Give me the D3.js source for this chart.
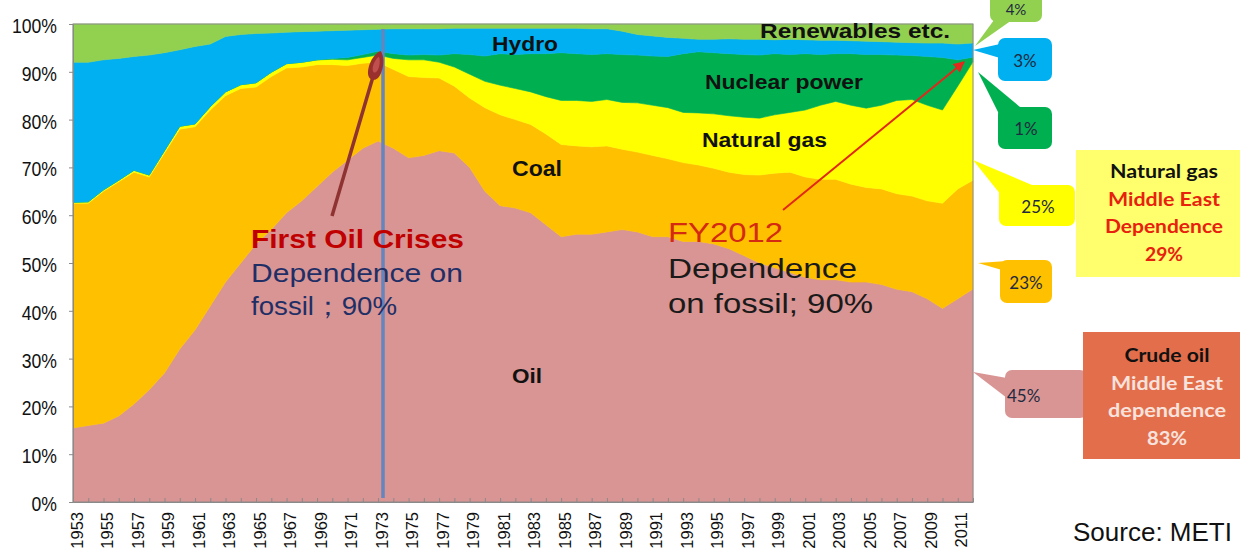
<!DOCTYPE html>
<html>
<head>
<meta charset="utf-8">
<script src="https://cdn.jsdelivr.net/npm/d3@7"></script>
<style>
  body { margin: 0; background: #fff; }
  svg { display: block; }
</style>
</head>
<body>
<svg id="chart" width="1240" height="549"></svg>
<script>
// Fiscal years on the x axis
const years = d3.range(1953, 2013);

// Share of primary energy supply by source (%), FY1953–FY2012
const oil = [15.5,16.0,16.5,18.0,20.5,23.5,27.0,32.0,36.0,41.0,
             46.0,50.0,54.0,57.0,60.5,63.0,66.0,69.0,71.5,74.0,
             75.5,74.0,72.0,72.5,73.5,73.0,70.0,65.0,62.0,61.5,
             60.5,58.0,55.5,56.0,56.0,56.5,57.0,56.5,55.5,55.5,
             54.5,54.5,54.0,53.0,51.5,50.0,49.0,48.0,47.0,46.5,
             46.5,46.0,46.0,45.5,44.5,44.0,42.5,40.5,42.5,45];
const coal = [47.0,46.5,48.5,49.0,48.5,44.5,46.0,46.0,42.5,41.0,
              39.0,36.5,32.8,32.0,30.3,28.0,25.5,22.5,19.8,17.8,
              16.5,16.5,17.0,16.3,15.2,14.0,14.5,17.5,19.0,18.5,
              18.5,19.0,19.3,18.5,18.3,18.0,16.8,16.7,17.0,16.3,
              16.5,16.0,15.8,16.0,17.0,18.4,19.8,21.0,21.0,21.0,
              21.0,20.5,19.8,20.0,20.0,20.0,20.5,22.0,23.0,23];
const gas = [0.2,0.3,0.3,0.3,0.4,0.4,0.5,0.6,0.6,0.7,
             0.8,0.8,0.9,0.9,0.9,1.0,1.0,1.1,1.2,1.2,
             1.5,2.3,3.5,3.7,3.3,4.0,5.0,5.5,6.2,6.5,
             6.8,7.8,9.2,9.5,9.5,9.7,9.8,10.3,10.5,10.7,
             10.5,10.9,11.4,11.8,12.0,11.9,12.2,12.5,14.0,15.5,
             16.3,16.5,16.6,17.5,19.5,20.2,20.0,19.5,21.5,25];
const nuclear = [0,0,0,0,0,0,0,0,0,0,
                 0,0,0,0,0,0,0,0.2,0.5,0.6,
                 0.8,1.0,1.0,1.1,1.5,2.8,4.1,5.3,6.6,7.1,
                 8.0,9.0,10.0,9.8,9.8,9.6,10.0,10.0,10.3,10.7,
                 12.3,12.8,12.8,13.0,13.1,13.2,12.8,12.1,11.8,10.6,
                 10.0,10.8,11.2,10.6,9.5,9.2,10.2,11.0,5.5,1];
const hydro = [29.3,29.2,27.2,25.5,23.8,25.1,20.5,16.0,16.2,13.1,
               11.6,10.5,10.3,8.2,6.6,6.4,6.0,5.8,5.7,5.2,
               4.6,5.2,5.5,5.4,5.5,5.3,5.5,5.8,5.3,5.5,
               5.3,5.3,5.1,5.3,5.4,5.2,4.9,4.3,4.2,4.0,
               3.2,2.6,2.8,3.1,3.2,3.3,2.9,3.2,2.9,3.0,
               2.8,2.7,2.8,2.7,2.7,2.7,2.8,3.0,3.3,3];
const renewables = [8.0,8.0,7.5,7.2,6.8,6.5,6.0,5.4,4.7,4.2,
                    2.6,2.2,2.0,1.9,1.7,1.6,1.5,1.4,1.3,1.2,
                    1.1,1.0,1.0,1.0,1.0,0.9,0.9,0.9,0.9,0.9,
                    0.9,0.9,0.9,0.9,1.0,1.0,1.5,2.2,2.5,2.8,
                    3.0,3.2,3.2,3.1,3.2,3.2,3.3,3.2,3.3,3.4,
                    3.4,3.5,3.6,3.7,3.8,3.9,4.0,4.0,4.2,4];

const seriesKeys   = ["oil", "coal", "gas", "nuclear", "hydro", "renewables"];
const seriesNames  = ["Oil", "Coal", "Natural gas", "Nuclear power", "Hydro", "Renewables etc."];
const seriesColors = ["#D99594", "#FFC000", "#FFFF00", "#00B050", "#00B0F0", "#92D050"];

const yTicks = [0, 0.1, 0.2, 0.3, 0.4, 0.5, 0.6, 0.7, 0.8, 0.9, 1.0];

// Middle East dependence (FY2012)
const meOil = 83;
const meGas = 29;

// ---------------------------------------------------------------
const rows = years.map((yr, i) => ({
  year: yr, oil: oil[i], coal: coal[i], gas: gas[i],
  nuclear: nuclear[i], hydro: hydro[i], renewables: renewables[i]
}));

const svg = d3.select("#chart");
const plot = { left: 73, right: 973, top: 24, bottom: 502 };

const x = d3.scaleLinear().domain([1953, 2012]).range([plot.left, plot.right]);
const y = d3.scaleLinear().domain([0, 1]).range([plot.bottom, plot.top]);
const color = d3.scaleOrdinal().domain(seriesKeys).range(seriesColors);

const stacked = d3.stack().keys(seriesKeys).offset(d3.stackOffsetExpand)(rows);

const area = d3.area()
  .x(d => x(d.data.year))
  .y0(d => y(d[0]))
  .y1(d => y(d[1]))
  .curve(d3.curveLinear);

svg.append("g").selectAll("path")
  .data(stacked)
  .join("path")
  .attr("fill", d => color(d.key))
  .attr("stroke", d => color(d.key))
  .attr("stroke-width", 0.6)
  .attr("d", area);

// plot frame
svg.append("rect")
  .attr("x", plot.left).attr("y", plot.top)
  .attr("width", plot.right - plot.left).attr("height", plot.bottom - plot.top)
  .attr("fill", "none").attr("stroke", "#8a8a8a").attr("stroke-width", 1);

const SANS = "'Liberation Sans', Arial, sans-serif";
const CAL = "Lato, 'Open Sans', sans-serif";

// y axis
const yAxis = svg.append("g")
  .attr("transform", `translate(${plot.left},0)`)
  .call(d3.axisLeft(y).tickValues(yTicks).tickFormat(d3.format(".0%")).tickSize(4).tickPadding(12));
yAxis.select(".domain").attr("stroke", "#8a8a8a");
yAxis.selectAll(".tick line").attr("stroke", "#8a8a8a");
yAxis.selectAll(".tick text")
  .attr("font-family", SANS).attr("font-size", 20).attr("fill", "#111")
  .attr("dy", "0.42em")
  .each(function () {
    const w = this.getComputedTextLength();
    this.setAttribute("textLength", w * 0.88);
    this.setAttribute("lengthAdjust", "spacingAndGlyphs");
  });

// x axis: a tick per year, a label every second year
const xAxis = svg.append("g")
  .attr("transform", `translate(0,${plot.bottom})`)
  .call(d3.axisBottom(x).tickValues(years).tickSizeInner(-4).tickSizeOuter(0)
    .tickFormat(d => (d % 2 === 1 ? String(d) : "")));
xAxis.select(".domain").attr("stroke", "#8a8a8a");
xAxis.selectAll(".tick line").attr("stroke", "#8a8a8a");
xAxis.selectAll(".tick text")
  .attr("font-family", SANS).attr("font-size", 16.5).attr("fill", "#111")
  .attr("transform", "rotate(-90)")
  .attr("text-anchor", "end")
  .attr("x", -10).attr("y", 0).attr("dy", "0.55em");

// text helper
function txt(s, px, py, o) {
  const t = svg.append("text")
    .attr("x", px).attr("y", py).text(s)
    .attr("font-family", o.family || SANS)
    .attr("font-size", o.size)
    .attr("font-weight", o.weight || "normal")
    .attr("fill", o.fill || "#000")
    .attr("text-anchor", o.anchor || "start");
  if (o.width) t.attr("textLength", o.width).attr("lengthAdjust", "spacingAndGlyphs");
  return t;
}

// series labels inside the areas
const seriesLabelPos = {
  oil:        { x: 512, y: 383, size: 21, w: 30 },
  coal:       { x: 512, y: 176, size: 22, w: 50 },
  gas:        { x: 702, y: 147, size: 20, w: 125 },
  nuclear:    { x: 705, y: 89,  size: 20, w: 158 },
  hydro:      { x: 492, y: 51,  size: 21, w: 66 },
  renewables: { x: 760, y: 38,  size: 21, w: 190 }
};
seriesKeys.forEach((k, i) => {
  const p = seriesLabelPos[k];
  txt(seriesNames[i], p.x, p.y, { size: p.size, weight: "bold", fill: "#111", width: p.w });
});

// first oil crisis marker
const crisisX = 383;
svg.append("line")
  .attr("x1", crisisX).attr("x2", crisisX).attr("y1", 29).attr("y2", 498)
  .attr("stroke", "#6585BF").attr("stroke-width", 3.5);

const defs = svg.append("defs");
const brown = defs.append("marker")
  .attr("id", "brownHead").attr("viewBox", "0 -8 30 16")
  .attr("markerUnits", "userSpaceOnUse").attr("markerWidth", 30).attr("markerHeight", 16)
  .attr("refX", 28).attr("refY", 0).attr("orient", "auto");
brown.append("path")
  .attr("d", "M30,0 C24,-8 5,-9 1,-3 C0,0 0,0 1,3 C5,9 24,8 30,0Z")
  .attr("fill", "#9A302E");
brown.append("path")
  .attr("d", "M24,0 C20,-3.5 10,-4 8,-1 C7.5,0 7.5,0 8,1 C10,4 20,3.5 24,0Z")
  .attr("fill", "#C0504D");
defs.append("marker")
  .attr("id", "redHead").attr("viewBox", "0 -5 10 10")
  .attr("markerUnits", "userSpaceOnUse").attr("markerWidth", 12).attr("markerHeight", 11)
  .attr("refX", 9).attr("refY", 0).attr("orient", "auto")
  .append("path").attr("d", "M0,-5 L10,0 L0,5 Z").attr("fill", "#E2271C");

svg.append("line")
  .attr("x1", 332).attr("y1", 216).attr("x2", 380).attr("y2", 53)
  .attr("stroke", "#8E3331").attr("stroke-width", 3.5)
  .attr("marker-end", "url(#brownHead)");

txt("First Oil Crises", 251, 248, { size: 26, weight: "bold", fill: "#C00000", width: 213 });
txt("Dependence on", 251, 282, { size: 26, fill: "#1F2F66", width: 212 });
txt("fossil；90%", 251, 315, { size: 26, fill: "#1F2F66", width: 146 });

// FY2012 annotation
svg.append("line")
  .attr("x1", 783).attr("y1", 210).attr("x2", 964).attr("y2", 62)
  .attr("stroke", "#E2271C").attr("stroke-width", 2)
  .attr("marker-end", "url(#redHead)");
txt("FY2012", 668, 242, { size: 28, fill: "#D42A12", width: 115 });
txt("Dependence", 668, 278, { size: 28, fill: "#1a1a1a", width: 189 });
txt("on fossil; 90%", 668, 313, { size: 28, fill: "#1a1a1a", width: 205 });

// FY2012 share callouts
const last = years.length - 1;
const callouts = [
  { key: "renewables", v: renewables[last], box: [990, -20, 52, 42], tip: [975, 46], base: [[994, 20], [1012, 20]], t: [1016, 15, "middle"], size: 15 },
  { key: "hydro",      v: hydro[last],      box: [998, 38, 54, 43],  tip: [973, 50], base: [[1000, 44], [1000, 58]], t: [1025, 67, "middle"] },
  { key: "nuclear",    v: nuclear[last],    box: [998, 107, 54, 42], tip: [978, 72], base: [[1000, 116], [1020, 107]], t: [1026, 135, "middle"] },
  { key: "gas",        v: gas[last],        box: [999, 185, 76, 41], tip: [973, 160], base: [[1001, 195], [1032, 185]], t: [1038, 213, "middle"] },
  { key: "coal",       v: coal[last],       box: [1000, 260, 52, 43], tip: [978, 263], base: [[1002, 270], [1020, 260]], t: [1026, 289, "middle"] },
  { key: "oil",        v: oil[last],        box: [1005, 370, 82, 48], tip: [973, 372], base: [[1007, 378], [1007, 398]], t: [1007, 402, "start"] }
];
callouts.forEach(c => {
  const g = svg.append("g");
  const fill = color(c.key);
  g.append("path")
    .attr("d", `M${c.tip[0]},${c.tip[1]} L${c.base[0][0]},${c.base[0][1]} L${c.base[1][0]},${c.base[1][1]} Z`)
    .attr("fill", fill);
  g.append("rect")
    .attr("x", c.box[0]).attr("y", c.box[1]).attr("width", c.box[2]).attr("height", c.box[3])
    .attr("rx", 7).attr("fill", fill);
  txt(`${c.v}%`, c.t[0], c.t[1], { family: CAL, size: c.size || 17, fill: "#1E2A3F", anchor: c.t[2] });
});

// Middle East dependence boxes
svg.append("rect").attr("x", 1076).attr("y", 150).attr("width", 170).attr("height", 127).attr("fill", "#FFFF6E");
txt("Natural gas", 1164, 178, { family: CAL, size: 19, weight: "bold", fill: "#111", anchor: "middle", width: 108 });
txt("Middle East", 1164, 206, { family: CAL, size: 19, weight: "bold", fill: "#E8210E", anchor: "middle", width: 112 });
txt("Dependence", 1164, 233, { family: CAL, size: 19, weight: "bold", fill: "#E8210E", anchor: "middle", width: 118 });
txt(`${meGas}%`, 1164, 261, { family: CAL, size: 19, weight: "bold", fill: "#E8210E", anchor: "middle", width: 38 });

svg.append("rect").attr("x", 1083).attr("y", 332).attr("width", 165).attr("height", 127).attr("fill", "#E36E4C");
txt("Crude oil", 1167, 362, { family: CAL, size: 19, weight: "bold", fill: "#111", anchor: "middle", width: 85 });
txt("Middle East", 1167, 390, { family: CAL, size: 19, weight: "bold", fill: "#F8E2DC", anchor: "middle", width: 112 });
txt("dependence", 1167, 417, { family: CAL, size: 19, weight: "bold", fill: "#F8E2DC", anchor: "middle", width: 118 });
txt(`${meOil}%`, 1167, 445, { family: CAL, size: 19, weight: "bold", fill: "#F8E2DC", anchor: "middle", width: 40 });

txt("Source: METI", 1073, 541, { size: 26, fill: "#111" });
</script>
</body>
</html>
